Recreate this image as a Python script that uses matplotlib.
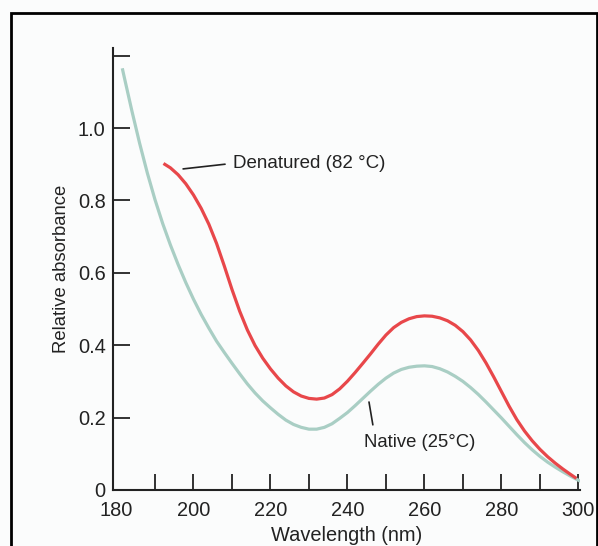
import matplotlib
matplotlib.use("Agg")
import matplotlib.pyplot as plt
from matplotlib.patches import Rectangle

plt.rcParams['font.family'] = ['Liberation Sans', 'DejaVu Sans']

# Native (25 °C) absorbance readings
native_wl = [181.5, 182, 184, 186, 188, 190, 192, 194, 196, 198, 200, 202, 204, 206, 208,
             210, 212, 214, 216, 218, 220, 222, 224, 226, 228, 230, 232, 234, 236, 238,
             240, 242, 244, 246, 248, 250, 252, 254, 256, 258, 260, 262, 264, 266, 268,
             270, 272, 274, 276, 278, 280, 282, 284, 286, 288, 290, 292, 294, 296, 298,
             300, 300.5]
native_abs = [1.165, 1.141, 1.047, 0.958, 0.876, 0.802, 0.736, 0.677, 0.623, 0.573, 0.527,
              0.485, 0.447, 0.411, 0.380, 0.350, 0.321, 0.293, 0.268, 0.246, 0.227, 0.209,
              0.193, 0.181, 0.173, 0.168, 0.168, 0.173, 0.183, 0.198, 0.214, 0.233, 0.253,
              0.273, 0.292, 0.309, 0.323, 0.333, 0.339, 0.342, 0.343, 0.341, 0.335, 0.326,
              0.314, 0.300, 0.283, 0.264, 0.243, 0.221, 0.199, 0.176, 0.153, 0.131, 0.111,
              0.093, 0.077, 0.063, 0.050, 0.038, 0.027, 0.024]

# Denatured (82 °C) absorbance readings
denat_wl = [192.2, 194, 196, 198, 200, 202, 204, 206, 208, 210, 212, 214, 216, 218, 220,
            222, 224, 226, 228, 230, 232, 234, 236, 238, 240, 242, 244, 246, 248, 250,
            252, 254, 256, 258, 260, 262, 264, 266, 268, 270, 272, 274, 276, 278, 280,
            282, 284, 286, 288, 290, 292, 294, 296, 298, 299.5]
denat_abs = [0.902, 0.890, 0.871, 0.846, 0.815, 0.778, 0.734, 0.681, 0.619, 0.554, 0.494,
             0.442, 0.399, 0.364, 0.3345, 0.309, 0.2875, 0.271, 0.2595, 0.253, 0.251, 0.254,
             0.2635, 0.2795, 0.3005, 0.3245, 0.350, 0.376, 0.403, 0.428, 0.4485, 0.463,
             0.473, 0.479, 0.481, 0.480, 0.4755, 0.4675, 0.455, 0.4375, 0.4145, 0.3855,
             0.351, 0.3125, 0.272, 0.2315, 0.1945, 0.163, 0.136, 0.1125, 0.092, 0.074,
             0.0577, 0.0427, 0.032]

x_major = [180, 200, 220, 240, 260, 280, 300]
x_minor = [190, 210, 230, 250, 270, 290]
y_ticks = [0, 0.2, 0.4, 0.6, 0.8, 1.0, 1.2]
y_labels = ["0", "0.2", "0.4", "0.6", "0.8", "1.0", ""]

bg = '#fbfcfc'
ink = '#222222'
fig = plt.figure(figsize=(5.98, 5.46), dpi=100, facecolor=bg)
ax = fig.add_axes([0.1884, 0.1026, 0.782, 0.8088], facecolor=bg)

ax.plot(native_wl, native_abs, color='#a9cec4', lw=2.3, solid_capstyle='butt',
        solid_joinstyle='round')
ax.plot(denat_wl, denat_abs, color='#e8474a', lw=2.3, solid_capstyle='butt',
        solid_joinstyle='round')

ax.set_xlim(179, 300.5)
ax.set_ylim(0, 1.22)
for s in ['top', 'right']:
    ax.spines[s].set_visible(False)
for s in ['left', 'bottom']:
    ax.spines[s].set_linewidth(1.5)
    ax.spines[s].set_color(ink)

ax.set_xticks(x_major)
ax.set_xticks(x_minor, minor=True)
ax.set_xticklabels([str(v) for v in x_major])
ax.set_yticks(y_ticks)
ax.set_yticklabels(y_labels)
ax.tick_params(axis='x', which='both', direction='in', length=11.5, width=1.3,
               color=ink, pad=8, labelsize=14.4, labelcolor=ink)
ax.tick_params(axis='y', direction='in', length=12.5, width=1.3, color=ink,
               pad=5, labelsize=14.4, labelcolor=ink)
ax.xaxis.get_major_ticks()[0].tick1line.set_visible(False)

ax.set_xlabel('Wavelength (nm)', fontsize=14.4, color=ink, labelpad=4)
ax.set_ylabel('Relative absorbance', fontsize=13.3, color=ink, labelpad=6)

# labels and leader lines
ax.text(210.3, 0.902, 'Denatured (82 °C)', fontsize=13.5, color=ink,
        va='center', ha='left')
ax.annotate('', xy=(197.3, 0.887), xytext=(208.2, 0.90),
            arrowprops=dict(arrowstyle='-', color=ink, lw=1.2, shrinkA=0, shrinkB=0))
ax.text(244.4, 0.132, 'Native (25°C)', fontsize=13.3, color=ink,
        va='center', ha='left')
ax.annotate('', xy=(245.6, 0.243), xytext=(246.6, 0.18),
            arrowprops=dict(arrowstyle='-', color=ink, lw=1.2, shrinkA=0, shrinkB=0))

# outer frame
fig.patches.append(Rectangle((11 / 598, -0.05), (597 - 11) / 598, 1 - 13 / 546 + 0.05,
                             transform=fig.transFigure, fill=False, edgecolor='black',
                             lw=2.0, zorder=10))

fig.savefig('out.png', dpi=100, facecolor=bg)
